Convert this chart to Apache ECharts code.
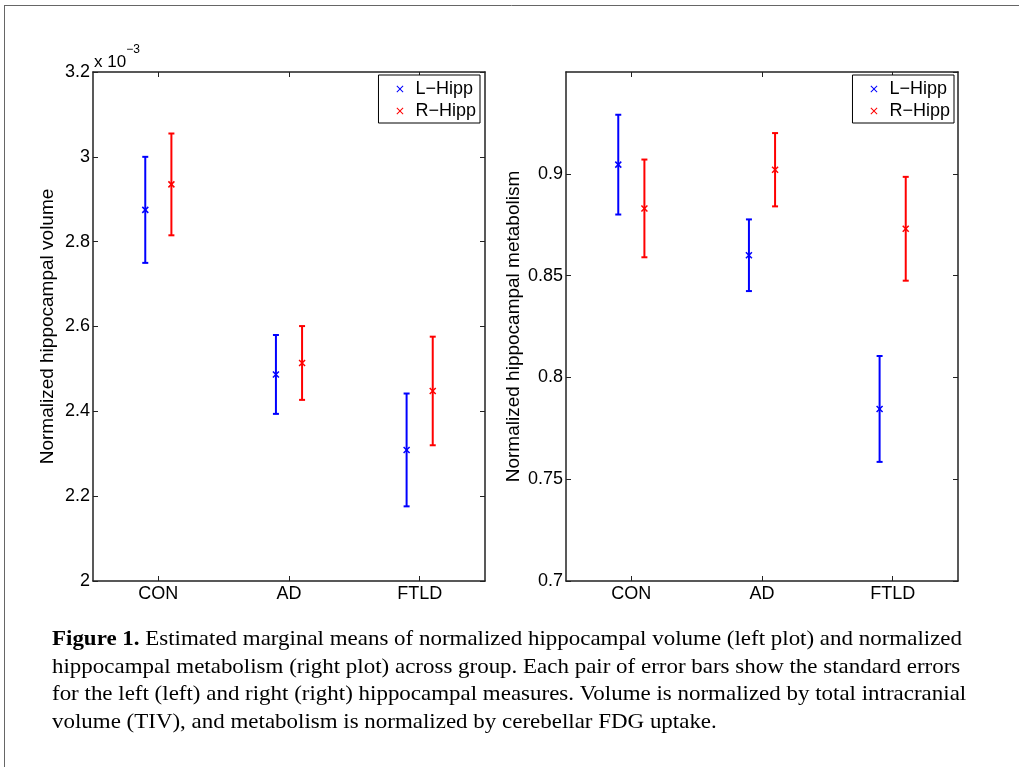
<!DOCTYPE html>
<html>
<head>
<meta charset="utf-8">
<script src="https://cdn.jsdelivr.net/npm/echarts@6/dist/echarts.min.js"></script>
<style>
  html, body { margin: 0; padding: 0; background: #fff; }
  #main { width: 1019px; height: 767px; }
</style>
</head>
<body>
<div id="main"></div>
<script>
// groups on the x axis
var groups = ["CON", "AD", "FTLD"];
var seriesNames = ["L\u2212Hipp", "R\u2212Hipp"];

// left plot: normalized volume (x 10^-3), mean and standard error
var volLMean = [2.875, 2.487, 2.309];
var volLErr = [0.125, 0.093, 0.133];
var volRMean = [2.935, 2.514, 2.448];
var volRErr = [0.12, 0.087, 0.128];

// right plot: normalized metabolism, mean and standard error
var metLMean = [0.9045, 0.86, 0.7845];
var metLErr = [0.0245, 0.0176, 0.026];
var metRMean = [0.883, 0.902, 0.873];
var metRErr = [0.024, 0.018, 0.0255];

// y axis ranges / tick step
var volAxis = { min: 2, max: 3.2, step: 0.2 };
var metAxis = { min: 0.7, max: 0.95, step: 0.05 };

var caption = [
  "Estimated marginal means of normalized hippocampal volume (left plot) and normalized",
  "hippocampal metabolism (right plot) across group. Each pair of error bars show the standard errors",
  "for the left (left) and right (right) hippocampal measures. Volume is normalized by total intracranial",
  "volume (TIV), and metabolism is normalized by cerebellar FDG uptake."
];

var myChart = echarts.init(document.getElementById("main"));
var sansFont = "Liberation Sans, Arial, sans-serif";
var serifFont = "Liberation Serif, Times New Roman, serif";
var frame = "#222";

function rows(means, errs) {
  return means.map(function (m, i) {
    return [i, m, errs[i]];
  });
}

// error bar: vertical line, two caps and an x marker at the mean
function errorBar(shift) {
  return function (params, api) {
    var band = api.size([1, 0])[0];
    var c = api.coord([api.value(0), api.value(1)]);
    var hi = api.coord([api.value(0), api.value(1) + api.value(2)]);
    var lo = api.coord([api.value(0), api.value(1) - api.value(2)]);
    var x = c[0] + shift * band;
    var color = api.visual("color");
    var cap = 3, m = 3;
    var st = { stroke: color, lineWidth: 2 };
    return {
      type: "group",
      children: [
        { type: "line", shape: { x1: x, y1: hi[1], x2: x, y2: lo[1] }, style: st },
        { type: "line", shape: { x1: x - cap, y1: hi[1], x2: x + cap, y2: hi[1] }, style: st },
        { type: "line", shape: { x1: x - cap, y1: lo[1], x2: x + cap, y2: lo[1] }, style: st },
        { type: "line", shape: { x1: x - m, y1: c[1] - m, x2: x + m, y2: c[1] + m }, style: { stroke: color, lineWidth: 1.5 } },
        { type: "line", shape: { x1: x - m, y1: c[1] + m, x2: x + m, y2: c[1] - m }, style: { stroke: color, lineWidth: 1.5 } }
      ]
    };
  };
}

function catAxis(grid, pos, showLabel) {
  return {
    type: "category",
    gridIndex: grid,
    position: pos,
    data: groups,
    axisLine: { show: true, onZero: false, lineStyle: { color: frame, width: 1.5 } },
    axisTick: { show: true, inside: true, length: 5, alignWithLabel: true, lineStyle: { color: frame } },
    axisLabel: { show: showLabel, color: "#000", fontSize: 18, fontFamily: sansFont, margin: 4 },
    splitLine: { show: false }
  };
}

function valAxis(grid, pos, r, showLabel, name, gap) {
  return {
    type: "value",
    gridIndex: grid,
    position: pos,
    min: r.min,
    max: r.max,
    interval: r.step,
    name: name,
    nameLocation: "middle",
    nameGap: gap,
    nameTextStyle: { color: "#000", fontSize: 19, fontFamily: sansFont },
    axisLine: { show: true, lineStyle: { color: frame, width: 1.5 } },
    axisTick: { show: true, inside: true, length: 5, lineStyle: { color: frame } },
    axisLabel: { show: showLabel, color: "#000", fontSize: 18, fontFamily: sansFont, margin: 3, showMaxLabel: r.max !== 0.95 },
    splitLine: { show: false }
  };
}

var xIcon = "path://M1,0L5,4L9,0L10,1L6,5L10,9L9,10L5,6L1,10L0,9L4,5L0,1Z";

function legendFor(right) {
  return {
    orient: "vertical",
    right: right,
    top: 75,
    data: [
      { name: seriesNames[0], icon: xIcon },
      { name: seriesNames[1], icon: xIcon }
    ],
    itemWidth: 7,
    itemHeight: 7,
    itemGap: 4,
    padding: [5, 4, 3, 18],
    backgroundColor: "#fff",
    borderColor: "#000",
    borderWidth: 1,
    textStyle: { color: "#000", fontSize: 18, fontFamily: sansFont, padding: [0, 0, 0, 7] }
  };
}

function barSeries(name, grid, data, color, shift) {
  return {
    name: name,
    type: "custom",
    xAxisIndex: grid * 2,
    yAxisIndex: grid * 2,
    data: data,
    encode: { x: 0, y: 1 },
    itemStyle: { color: color },
    renderItem: errorBar(shift)
  };
}

// caption lines, stretched a little to the width of the original figure text
var captionLines = [
  {
    type: "text",
    x: 0,
    y: 0,
    style: {
      text: "{b|Figure 1.} " + caption[0],
      fontFamily: serifFont,
      fontSize: 21,
      fill: "#000",
      rich: { b: { fontWeight: "bold", fontFamily: serifFont, fontSize: 21 } }
    }
  }
];
for (var i = 1; i < caption.length; i++) {
  captionLines.push({
    type: "text",
    x: 0,
    y: i * 27.5,
    style: { text: caption[i], fontFamily: serifFont, fontSize: 21, fill: "#000" }
  });
}

var option = {
  animation: false,
  backgroundColor: "#fff",
  grid: [
    { left: 93, top: 72, width: 392, height: 509 },
    { left: 566, top: 72, width: 392, height: 509 }
  ],
  xAxis: [
    catAxis(0, "bottom", true),
    catAxis(0, "top", false),
    catAxis(1, "bottom", true),
    catAxis(1, "top", false)
  ],
  yAxis: [
    valAxis(0, "left", volAxis, true, "Normalized hippocampal volume", 36),
    valAxis(0, "right", volAxis, false, "", 0),
    valAxis(1, "left", metAxis, true, "Normalized hippocampal metabolism", 43),
    valAxis(1, "right", metAxis, false, "", 0)
  ],
  legend: [legendFor(1019 - 480), legendFor(1019 - 954)],
  series: [
    barSeries(seriesNames[0], 0, rows(volLMean, volLErr), "#0000ff", -0.1),
    barSeries(seriesNames[1], 0, rows(volRMean, volRErr), "#ff0000", 0.1),
    barSeries(seriesNames[0], 1, rows(metLMean, metLErr), "#0000ff", -0.1),
    barSeries(seriesNames[1], 1, rows(metRMean, metRErr), "#ff0000", 0.1)
  ],
  graphic: [
    // page frame
    { type: "line", shape: { x1: 4, y1: 5.5, x2: 1019, y2: 5.5 }, style: { stroke: "#666", lineWidth: 1 } },
    { type: "line", shape: { x1: 4.5, y1: 5, x2: 4.5, y2: 767 }, style: { stroke: "#666", lineWidth: 1 } },
    // exponent above the left axis
    {
      type: "text",
      left: 94,
      top: 44,
      style: {
        text: "{a|x 10}{s|\u22123}",
        rich: {
          a: { fontSize: 17, fontFamily: sansFont, fill: "#000", padding: [10, 0, 0, 0] },
          s: { fontSize: 12, fontFamily: sansFont, fill: "#000", verticalAlign: "top" }
        }
      }
    },
    {
      type: "group",
      x: 52,
      y: 629,
      scaleX: 1.093,
      children: captionLines
    }
  ]
};

myChart.setOption(option);
</script>
</body>
</html>
